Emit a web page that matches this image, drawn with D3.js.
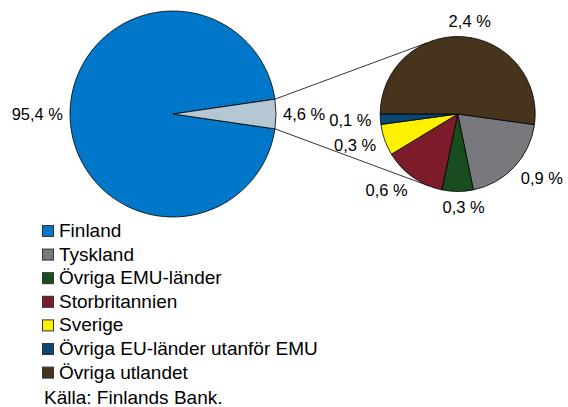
<!DOCTYPE html>
<html>
<head>
<meta charset="utf-8">
<script src="https://cdn.jsdelivr.net/npm/d3@7"></script>
<style>
  body { margin: 0; background: #fff; }
  text { font-family: "Liberation Sans", Arial, sans-serif; fill: #000; }
</style>
</head>
<body>
<div id="chart"></div>
<script>
// data
const mainLabels = ['Finland', 'Utlandet'];
const mainValues = [95.4, 4.6];
const mainColors = ['#0077c8', '#b4c7d3'];

const subLabels = ['Tyskland', 'Övriga EMU-länder', 'Storbritannien', 'Sverige', 'Övriga EU-länder utanför EMU', 'Övriga utlandet'];
const subValues = [0.9, 0.3, 0.6, 0.3, 0.1, 2.4];
const subColors = ['#77797d', '#174d1f', '#7c1c2a', '#fff200', '#0a4775', '#46341d'];

const legendLabels = ['Finland', 'Tyskland', 'Övriga EMU-länder', 'Storbritannien', 'Sverige', 'Övriga EU-länder utanför EMU', 'Övriga utlandet'];
const legendColors = ['#0077c8', '#77797d', '#174d1f', '#7c1c2a', '#fff200', '#0a4775', '#46341d'];
const source = 'Källa: Finlands Bank.';

const fmt = v => d3.format('.1f')(v).replace('.', ',') + ' %';

const svgWidth = 568, svgHeight = 407;
const svg = d3.select('#chart').append('svg')
  .attr('width', svgWidth)
  .attr('height', svgHeight);

// stora pajen
const big = { cx: 173, cy: 114, r: 103 };
const bigSpan = mainValues[1] / d3.sum(mainValues) * 2 * Math.PI;
const bigPie = d3.pie().sort(null)
  .startAngle(Math.PI / 2 + bigSpan / 2)
  .endAngle(Math.PI / 2 + bigSpan / 2 + 2 * Math.PI);
const bigArcs = bigPie(mainValues);
const bigArc = d3.arc().innerRadius(0).outerRadius(big.r);

const gBig = svg.append('g').attr('transform', `translate(${big.cx},${big.cy})`);
gBig.selectAll('path')
  .data(bigArcs)
  .enter().append('path')
  .attr('d', bigArc)
  .attr('fill', (d, i) => mainColors[i])
  .attr('stroke', '#000')
  .attr('stroke-width', 0.8);

// lilla pajen
const small = { cx: 457.7, cy: 114, r: 77.5 };
const startA = 97.9 * Math.PI / 180;
const smallPie = d3.pie().sort(null).startAngle(startA).endAngle(startA + 2 * Math.PI);
const smallArcs = smallPie(subValues);
const smallArc = d3.arc().innerRadius(0).outerRadius(small.r);

// förbindelselinjer
const pt = (c, r, a) => [c.cx + r * Math.sin(a), c.cy - r * Math.cos(a)];
const topA = Math.PI / 2 - bigSpan / 2, botA = Math.PI / 2 + bigSpan / 2;
const links = [
  [pt(big, big.r, topA), pt(small, small.r, -23.4 * Math.PI / 180)],
  [pt(big, big.r, botA), pt(small, small.r, 202 * Math.PI / 180)]
];
svg.selectAll('.link')
  .data(links)
  .enter().append('line')
  .attr('class', 'link')
  .attr('x1', d => d[0][0]).attr('y1', d => d[0][1])
  .attr('x2', d => d[1][0]).attr('y2', d => d[1][1])
  .attr('stroke', '#000')
  .attr('stroke-width', 0.8);

const gSmall = svg.append('g').attr('transform', `translate(${small.cx},${small.cy})`);
gSmall.selectAll('path')
  .data(smallArcs)
  .enter().append('path')
  .attr('d', smallArc)
  .attr('fill', (d, i) => subColors[i])
  .attr('stroke', '#000')
  .attr('stroke-width', 0.8);

// etiketter utanför kanten
function outsideLabel(g, d, r, pad) {
  const a = (d.startAngle + d.endAngle) / 2;
  const ux = Math.sin(a), uy = -Math.cos(a);
  const h = 14;
  const anchor = ux > 0.3 ? 'start' : ux < -0.3 ? 'end' : 'middle';
  g.append('text')
    .attr('x', (r + pad) * ux + (anchor === 'middle' ? 6 : 0))
    .attr('y', (r + pad) * uy + uy * h / 2)
    .attr('dy', '0.35em')
    .attr('text-anchor', anchor)
    .style('font-size', '16.5px')
    .text(fmt(d.data));
}
bigArcs.forEach(d => outsideLabel(gBig, d, big.r, 7));
smallArcs.forEach(d => outsideLabel(gSmall, d, small.r, 9));

// legend
const legend = svg.append('g').attr('transform', 'translate(42,237)');
const item = legend.selectAll('.item')
  .data(legendLabels)
  .enter().append('g')
  .attr('class', 'item')
  .attr('transform', (d, i) => `translate(0,${i * 23.6})`);
item.append('rect')
  .attr('x', 0.5).attr('y', -11.5)
  .attr('width', 11).attr('height', 11)
  .attr('fill', (d, i) => legendColors[i])
  .attr('stroke', '#333')
  .attr('stroke-width', 1);
item.append('text')
  .attr('x', 17).attr('y', 0)
  .style('font-size', '19px')
  .text(d => d);

svg.append('text')
  .attr('x', 44).attr('y', 404)
  .style('font-size', '19px')
  .text(source);
</script>
</body>
</html>
